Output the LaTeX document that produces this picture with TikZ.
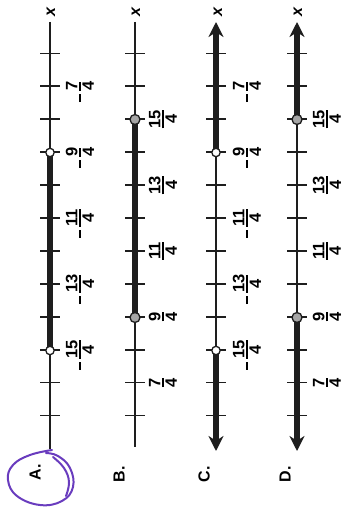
\documentclass[tikz,border=0pt]{standalone}
\usepackage{amsmath}
\usepackage{fontspec}
\setmainfont{Liberation Sans}
\usetikzlibrary{arrows.meta}
\newcommand\myfr[2]{$\genfrac{}{}{1.7pt}{1}{\mbox{\bfseries #1}}{\mbox{\bfseries #2}}$}
\newcommand\nfr[2]{\llap{\raisebox{3.2pt}{\rule{8pt}{1.9pt}}\hspace{2pt}}\myfr{#1}{#2}}
\definecolor{ink}{RGB}{30,30,30}
\definecolor{pen}{RGB}{105,60,190}
\begin{document}
\begin{tikzpicture}[x=1pt,y=-1pt,
  axisline/.style={draw=ink,line width=2.2pt},
  heavy/.style={draw=ink,line width=5.5pt},
  heavyarrow/.style={draw=ink,line width=5.5pt,-{Stealth[length=15pt,width=15pt]}},
  tickmark/.style={draw=ink,line width=1.8pt},
  opendot/.style={draw=ink,fill=white,line width=1.3pt},
  closeddot/.style={draw=ink,fill=gray!70,line width=1.3pt},
  lab/.style={rotate=90,inner sep=0pt,font=\fontsize{16.5}{16.5}\selectfont},
  varlab/.style={rotate=90,inner sep=0pt,font=\fontsize{16}{16}\selectfont\bfseries\itshape},
  letter/.style={rotate=90,inner sep=0pt,font=\fontsize{16}{16}\selectfont\bfseries},
  hand/.style={draw=pen,line width=2pt,line cap=round}]
\useasboundingbox (0,0) rectangle (349,508);
% ---------- A ----------
\coordinate (At) at (50,22);
\coordinate (Ab) at (50,449);
\coordinate (Ap) at (50,152.5);
\coordinate (Aq) at (50,350.5);
\draw[axisline] (At) -- (Ab);
\draw[heavy] (Ap) -- (Aq);
\foreach \i in {0,...,11}{\draw[tickmark] (40,53.5+32.9*\i) -- (60,53.5+32.9*\i);}
\draw[opendot] (Ap) circle (4.2);
\draw[opendot] (Aq) circle (4.2);
\node[varlab] (Ax) at (51,12) {x};
\node[lab] (A1) at (80,86.4) {\nfr{7}{4}};
\node[lab] (A2) at (80,152.2) {\nfr{9}{4}};
\node[lab] (A3) at (80,218) {\nfr{11}{4}};
\node[lab] (A4) at (80,283.8) {\nfr{13}{4}};
\node[lab] (A5) at (80,349.6) {\nfr{15}{4}};
\node[letter] (AL) at (35,472) {A.};
\draw[hand] plot[smooth,tension=0.7] coordinates {(52,450) (30,455) (13,465) (8,480) (17,496) (40,505) (62,501) (73,487) (70,468) (58,456) (46,453)};
\draw[hand] plot[smooth,tension=0.7] coordinates {(53,457) (64,468) (69,482) (66,496)};
% ---------- B ----------
\coordinate (Bt) at (135,22);
\coordinate (Bb) at (135,447);
\coordinate (Bp) at (135,119.5);
\coordinate (Bq) at (135,317.5);
\draw[axisline] (Bt) -- (Bb);
\draw[heavy] (Bp) -- (Bq);
\foreach \i in {0,...,11}{\draw[tickmark] (125,53.5+32.9*\i) -- (145,53.5+32.9*\i);}
\draw[closeddot] (Bp) circle (5);
\draw[closeddot] (Bq) circle (5);
\node[varlab] (Bx) at (136,12) {x};
\node[lab] (B1) at (163,119.3) {\myfr{15}{4}};
\node[lab] (B2) at (163,185.1) {\myfr{13}{4}};
\node[lab] (B3) at (163,250.9) {\myfr{11}{4}};
\node[lab] (B4) at (163,316.7) {\myfr{9}{4}};
\node[lab] (B5) at (163,382.5) {\myfr{7}{4}};
\node[letter] (BL) at (119,474) {B.};
% ---------- C ----------
\coordinate (Ct) at (216,22);
\coordinate (Cb) at (216,451);
\coordinate (Cp) at (216,152.5);
\coordinate (Cq) at (216,350.5);
\draw[axisline] (Cp) -- (Cq);
\draw[heavyarrow] (Cp) -- (Ct);
\draw[heavyarrow] (Cq) -- (Cb);
\foreach \i in {0,...,11}{\draw[tickmark] (206,53.5+32.9*\i) -- (226,53.5+32.9*\i);}
\draw[opendot] (Cp) circle (4.2);
\draw[opendot] (Cq) circle (4.2);
\node[varlab] (Cx) at (218,12) {x};
\node[lab] (C1) at (247,86.4) {\nfr{7}{4}};
\node[lab] (C2) at (247,152.2) {\nfr{9}{4}};
\node[lab] (C3) at (247,218) {\nfr{11}{4}};
\node[lab] (C4) at (247,283.8) {\nfr{13}{4}};
\node[lab] (C5) at (247,349.6) {\nfr{15}{4}};
\node[letter] (CL) at (204,474) {C.};
% ---------- D ----------
\coordinate (Dt) at (297,22);
\coordinate (Db) at (297,451);
\coordinate (Dp) at (297,119.5);
\coordinate (Dq) at (297,317.5);
\draw[axisline] (Dp) -- (Dq);
\draw[heavyarrow] (Dp) -- (Dt);
\draw[heavyarrow] (Dq) -- (Db);
\foreach \i in {0,...,11}{\draw[tickmark] (287,53.5+32.9*\i) -- (307,53.5+32.9*\i);}
\draw[closeddot] (Dp) circle (5);
\draw[closeddot] (Dq) circle (5);
\node[varlab] (Dx) at (298,12) {x};
\node[lab] (D1) at (327,119.3) {\myfr{15}{4}};
\node[lab] (D2) at (327,185.1) {\myfr{13}{4}};
\node[lab] (D3) at (327,250.9) {\myfr{11}{4}};
\node[lab] (D4) at (327,316.7) {\myfr{9}{4}};
\node[lab] (D5) at (327,382.5) {\myfr{7}{4}};
\node[letter] (DL) at (285,474) {D.};
\end{tikzpicture}
\end{document}
